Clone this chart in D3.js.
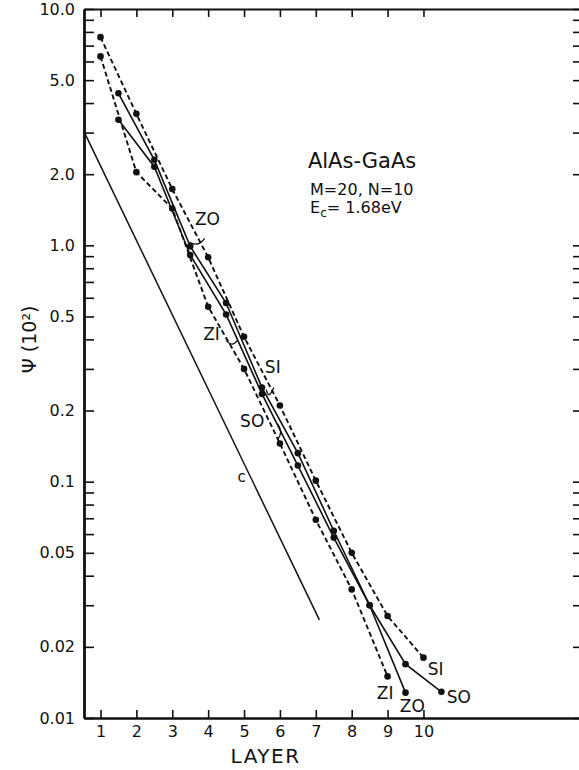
<!DOCTYPE html>
<html>
<head>
  <title>AlAs-GaAs layer decay</title>
  <script src="https://d3js.org/d3.v7.min.js"></script>
  <style>
    body { margin: 0; background: #fff; }
    text { font-family: "DejaVu Sans", sans-serif; fill: #111; }
  </style>
</head>
<body>
  <div id="chart"></div>

  <script>
    // values
    const siLayers = [1, 2, 3, 4, 5, 6, 7, 8, 9, 10];
    const siPsi = [7.6, 3.6, 1.73, 0.89, 0.41, 0.21, 0.101, 0.050, 0.027, 0.018];
    const ziLayers = [1, 2, 3, 4, 5, 6, 7, 8, 9];
    const ziPsi = [6.3, 2.04, 1.43, 0.55, 0.30, 0.145, 0.069, 0.035, 0.015];
    const zoLayers = [1.5, 2.5, 3.5, 4.5, 5.5, 6.5, 7.5, 8.5, 9.5];
    const zoPsi = [4.4, 2.3, 0.99, 0.57, 0.25, 0.132, 0.062, 0.030, 0.0128];
    const soLayers = [1.5, 2.5, 3.5, 4.5, 5.5, 6.5, 7.5, 8.5, 9.5, 10.5];
    const soPsi = [3.4, 2.15, 0.91, 0.51, 0.235, 0.117, 0.058, 0.030, 0.0169, 0.0129];
    const cLayers = [0.54, 7.1];
    const cPsi = [3.03, 0.026];

    const xTicks = [1, 2, 3, 4, 5, 6, 7, 8, 9, 10];
    const yTickValues = [10, 5, 2, 1, 0.5, 0.2, 0.1, 0.05, 0.02, 0.01];
    const yTickLabels = ["10.0", "5.0", "2.0", "1.0", "0.5", "0.2", "0.1", "0.05", "0.02", "0.01"];

    const width = 579, height = 770;

    const svg = d3.select("#chart").append("svg")
      .attr("width", width)
      .attr("height", height);

    const x = d3.scaleLinear().domain([0.54, 14.39]).range([84, 581]);
    const y = d3.scaleLog().domain([0.01, 10]).range([718, 9]);

    const labelOf = new Map(yTickValues.map((v, i) => [v, yTickLabels[i]]));
    const allY = y.ticks();

    function styleAxis(g, w) {
      g.select(".domain").attr("stroke", "#111").attr("stroke-width", w);
      g.selectAll(".tick line").attr("stroke", "#111").attr("stroke-width", 1.6);
      g.selectAll("text").attr("font-family", "DejaVu Sans").attr("font-size", 16).attr("fill", "#111");
    }

    // axes with inward ticks
    svg.append("g")
      .attr("transform", `translate(0,${y(0.01)})`)
      .call(d3.axisBottom(x).tickValues(xTicks).tickSize(-8).tickSizeOuter(0).tickPadding(8))
      .call(g => styleAxis(g, 2.6));

    svg.append("g")
      .attr("transform", `translate(0,${y(10)})`)
      .call(d3.axisTop(x).tickValues(xTicks).tickSize(-8).tickSizeOuter(0).tickFormat(""))
      .call(g => styleAxis(g, 2.2));

    svg.append("g")
      .attr("transform", `translate(${x.range()[0]},0)`)
      .call(d3.axisLeft(y).tickValues(allY).tickSize(-10).tickSizeOuter(0).tickPadding(9)
        .tickFormat(d => {
          const k = yTickValues.find(v => Math.abs(v - d) < d * 1e-6);
          return k === undefined ? "" : labelOf.get(k);
        }))
      .call(g => styleAxis(g, 2.8));

    svg.append("g")
      .attr("transform", `translate(${x.range()[1]},0)`)
      .call(d3.axisRight(y).tickValues(allY).tickSize(-8).tickSizeOuter(0).tickFormat(""))
      .call(g => styleAxis(g, 2));

    // axis titles
    svg.append("text")
      .attr("x", x(5.6)).attr("y", 763)
      .attr("text-anchor", "middle")
      .attr("font-size", 20)
      .attr("letter-spacing", 1.5)
      .text("LAYER");

    svg.append("text")
      .attr("transform", `translate(36,${y(0.4)}) rotate(-90)`)
      .attr("text-anchor", "middle")
      .attr("font-size", 19)
      .text("\u03A8 (10\u00B2)");

    // curves
    const line = d3.line().x(d => x(d[0])).y(d => y(d[1]));
    const series = [
      { name: "SI", xs: siLayers, ys: siPsi, dash: "5,3" },
      { name: "ZI", xs: ziLayers, ys: ziPsi, dash: "5,3" },
      { name: "ZO", xs: zoLayers, ys: zoPsi, dash: null },
      { name: "SO", xs: soLayers, ys: soPsi, dash: null }
    ];

    series.forEach(s => {
      const pts = d3.zip(s.xs, s.ys);
      svg.append("path")
        .datum(pts)
        .attr("d", line)
        .attr("fill", "none")
        .attr("stroke", "#111")
        .attr("stroke-width", s.dash ? 1.9 : 1.6)
        .attr("stroke-dasharray", s.dash);
      svg.append("g").selectAll("circle")
        .data(pts)
        .join("circle")
        .attr("cx", d => x(d[0]))
        .attr("cy", d => y(d[1]))
        .attr("r", 3.3)
        .attr("fill", "#111");
    });

    svg.append("path")
      .datum(d3.zip(cLayers, cPsi))
      .attr("d", line)
      .attr("fill", "none")
      .attr("stroke", "#111")
      .attr("stroke-width", 1.5);

    // annotations, in data units
    const notes = [
      { t: "ZO", lx: 3.63, py: 1.22 },
      { t: "ZI", lx: 3.86, py: 0.397 },
      { t: "SI", lx: 5.58, py: 0.288 },
      { t: "SO", lx: 4.89, py: 0.170 },
      { t: "SI", lx: 10.12, py: 0.0152 },
      { t: "SO", lx: 10.65, py: 0.01156 },
      { t: "ZI", lx: 8.70, py: 0.0120 },
      { t: "ZO", lx: 9.34, py: 0.0106 },
      { t: "c", lx: 4.82, py: 0.0995 }
    ];
    svg.append("g").selectAll("text")
      .data(notes)
      .join("text")
      .attr("x", d => x(d.lx))
      .attr("y", d => y(d.py))
      .attr("font-size", d => d.t === "c" ? 15 : 17)
      .text(d => d.t);

    // little pointer hooks from labels to curves: [start, control, end] in data units
    const hooks = [
      [[3.48, 1.03], [3.74, 0.98], [3.90, 1.07]],
      [[4.50, 0.395], [4.67, 0.37], [4.81, 0.395]],
      [[5.62, 0.245], [5.68, 0.22], [5.83, 0.25]],
      [[5.93, 0.176], [6.11, 0.163], [5.93, 0.150]]
    ];
    svg.append("g").selectAll("path")
      .data(hooks)
      .join("path")
      .attr("d", h => `M${x(h[0][0])},${y(h[0][1])} Q${x(h[1][0])},${y(h[1][1])} ${x(h[2][0])},${y(h[2][1])}`)
      .attr("fill", "none")
      .attr("stroke", "#111")
      .attr("stroke-width", 1.3);

    // material block
    svg.append("text")
      .attr("x", x(6.78)).attr("y", y(2.12))
      .attr("font-size", 21)
      .text("AlAs-GaAs");
    svg.append("text")
      .attr("x", x(6.84)).attr("y", y(1.63))
      .attr("font-size", 16)
      .text("M=20, N=10");
    const ec = svg.append("text")
      .attr("x", x(6.84)).attr("y", y(1.37))
      .attr("font-size", 16);
    ec.append("tspan").text("E");
    ec.append("tspan").attr("font-size", 12).attr("dy", 4).text("c");
    ec.append("tspan").attr("dy", -4).text("= 1.68eV");
  </script>
</body>
</html>
